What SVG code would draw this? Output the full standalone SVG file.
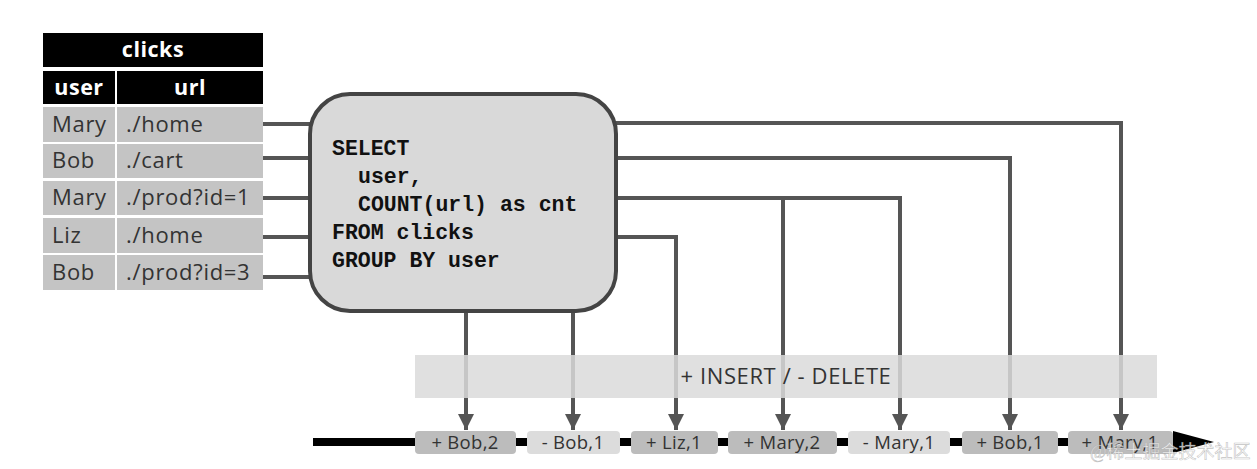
<svg xmlns="http://www.w3.org/2000/svg" width="1257" height="469" viewBox="0 0 1257 469">
<style>
.hdr{fill:#000}
.cell{fill:#c4c4c4}
.ht{font-family:"Open Sans",Lato,sans-serif;font-weight:bold;font-size:21.5px;letter-spacing:0.5px;fill:#fff;text-anchor:middle}
.ct{font-family:"Open Sans",Lato,sans-serif;font-size:22px;letter-spacing:0.7px;fill:#333}
.sql{font-family:"Liberation Mono",monospace;font-weight:bold;font-size:21.5px;fill:#111}
.wire{fill:none;stroke:#555;stroke-width:4}
.ev{font-family:"Open Sans",Lato,sans-serif;font-size:18.5px;letter-spacing:0.3px;fill:#333;text-anchor:middle}
.plus{fill:#bcbcbc}
.minus{fill:#dcdcdc}
</style>
<defs>
<marker id="ah" viewBox="0 0 10 10" refX="10" refY="5" markerWidth="4" markerHeight="4" orient="auto" markerUnits="strokeWidth">
<path d="M0,0 L10,5 L0,10 z" fill="#555"/>
</marker>
</defs>
<rect width="1257" height="469" fill="#fff"/>

<g id="clicks-table">
<rect class="hdr" x="43" y="33" width="220" height="34"/>
<text class="ht" x="153" y="57">clicks</text>
<rect class="hdr" x="43" y="71" width="72" height="33"/>
<rect class="hdr" x="117" y="71" width="146" height="33"/>
<text class="ht" x="79" y="95">user</text>
<text class="ht" x="190" y="95">url</text>
<rect class="cell" x="43" y="107" width="72" height="35"/><rect class="cell" x="117" y="107" width="146" height="35"/>
<rect class="cell" x="43" y="144" width="72" height="34"/><rect class="cell" x="117" y="144" width="146" height="34"/>
<rect class="cell" x="43" y="181" width="72" height="34"/><rect class="cell" x="117" y="181" width="146" height="34"/>
<rect class="cell" x="43" y="218" width="72" height="35"/><rect class="cell" x="117" y="218" width="146" height="35"/>
<rect class="cell" x="43" y="255" width="72" height="35"/><rect class="cell" x="117" y="255" width="146" height="35"/>
<text class="ct" x="52" y="132">Mary</text><text class="ct" x="126" y="132">./home</text>
<text class="ct" x="52" y="168">Bob</text><text class="ct" x="126" y="168">./cart</text>
<text class="ct" x="52" y="205">Mary</text><text class="ct" x="126" y="205">./prod?id=1</text>
<text class="ct" x="52" y="243">Liz</text><text class="ct" x="126" y="243">./home</text>
<text class="ct" x="52" y="280">Bob</text><text class="ct" x="126" y="280">./prod?id=3</text>
</g>

<g id="connectors">
<path class="wire" d="M263,124 H310"/>
<path class="wire" d="M263,158 H310"/>
<path class="wire" d="M263,198 H310"/>
<path class="wire" d="M263,237 H310"/>
<path class="wire" d="M263,277 H310"/>
<path class="wire" d="M466,313 V430" marker-end="url(#ah)"/>
<path class="wire" d="M573,313 V430" marker-end="url(#ah)"/>
<path class="wire" d="M616,237 H676 V430" marker-end="url(#ah)"/>
<path class="wire" d="M616,198 H900 V430" marker-end="url(#ah)"/>
<path class="wire" d="M783,198 V430" marker-end="url(#ah)"/>
<path class="wire" d="M616,158 H1010 V430" marker-end="url(#ah)"/>
<path class="wire" d="M616,123 H1121 V430" marker-end="url(#ah)"/>
</g>

<g id="query">
<rect x="310" y="94" width="306" height="217" rx="40" ry="40" fill="#d9d9d9" stroke="#444" stroke-width="4"/>
<text class="sql" x="332" y="155">SELECT</text>
<text class="sql" x="358" y="183">user,</text>
<text class="sql" x="358" y="211">COUNT(url) as cnt</text>
<text class="sql" x="332" y="239">FROM clicks</text>
<text class="sql" x="332" y="267">GROUP BY user</text>
</g>

<g id="insert-delete">
<rect x="415" y="355" width="742" height="43" fill="#dadada" opacity="0.85"/>
<text x="786" y="384" font-family="'Open Sans',Lato,sans-serif" font-size="22" letter-spacing="0.6" fill="#333" text-anchor="middle">+ INSERT / - DELETE</text>
</g>

<g id="timeline">
<path d="M313,442 H1180" stroke="#000" stroke-width="8" fill="none"/>
<path d="M1173,431 L1214,442 L1173,453 z" fill="#000"/>
</g>

<g id="events">
<rect class="plus" x="415" y="431" width="101" height="23" rx="4"/><text class="ev" x="465" y="449">+ Bob,2</text>
<rect class="minus" x="527" y="431" width="93" height="23" rx="4"/><text class="ev" x="573" y="449">- Bob,1</text>
<rect class="plus" x="631" y="431" width="87" height="23" rx="4"/><text class="ev" x="674" y="449">+ Liz,1</text>
<rect class="plus" x="728" y="431" width="109" height="23" rx="4"/><text class="ev" x="782" y="449">+ Mary,2</text>
<rect class="minus" x="848" y="431" width="102" height="23" rx="4"/><text class="ev" x="899" y="449">- Mary,1</text>
<rect class="plus" x="962" y="431" width="96" height="23" rx="4"/><text class="ev" x="1010" y="449">+ Bob,1</text>
<rect class="plus" x="1068" y="431" width="105" height="23" rx="4"/><text class="ev" x="1120" y="449">+ Mary,1</text>
</g>

<text x="1090" y="458" font-family="'Liberation Serif','Noto Sans CJK SC',serif" font-size="18" fill="#ffffff" fill-opacity="0.75" stroke="#999" stroke-width="0.6" stroke-opacity="0.6">@稀土掘金技术社区</text>
</svg>
